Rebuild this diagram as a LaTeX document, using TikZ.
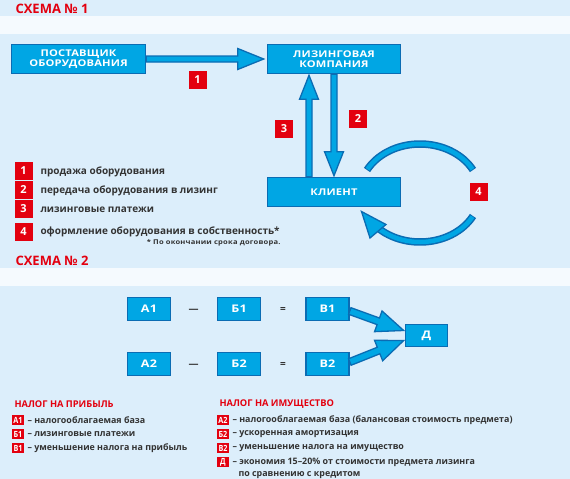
\documentclass[tikz,border=0pt]{standalone}
\usepackage{fontspec}
\setmainfont{Open Sans}
\usetikzlibrary{calc}
\definecolor{bg}{HTML}{DCEEFB}
\definecolor{band}{HTML}{F5FAFE}
\definecolor{boxfill}{HTML}{00A6E4}
\definecolor{boxline}{HTML}{0B6CB3}
\definecolor{redc}{HTML}{E3000F}
\definecolor{txt}{HTML}{333333}
\newfontfamily\wide[FakeStretch=1.2, LetterSpace=2]{Open Sans}
\newfontfamily\widesm[FakeStretch=1.15, LetterSpace=3]{Open Sans}
\newfontfamily\narrow[FakeStretch=0.85]{Open Sans}
\newcommand\barrow[5]{%
  \path let \p1=($(#2)-(#1)$), \n1={atan2(\y1,\x1)}, \n2={veclen(\x1,\y1)} in
  [draw=boxline, fill=boxfill, line width=1.3pt, line join=miter, shift={(#1)}, rotate=\n1]
  (0,-#3) -- ({\n2-#5},-#3) -- ({\n2-#5},-#4) -- (\n2,0) -- ({\n2-#5},#4) -- ({\n2-#5},#3) -- (0,#3) -- cycle;}
\begin{document}
\begin{tikzpicture}[x=1pt,y=-1pt,
  bluebox/.style={draw=boxline, line width=1.6pt, fill=boxfill, text=white,
    font=\wide\bfseries\fontsize{9.3}{10.3}\selectfont, align=center, inner sep=0pt},
  bigbox/.style={bluebox, font=\wide\bfseries\fontsize{10.5}{11}\selectfont},
  numbox/.style={fill=redc, text=white, font=\bfseries\fontsize{11}{11}\selectfont,
    minimum size=18pt, inner sep=0pt},
  smallbox/.style={fill=redc, text=white, font=\narrow\bfseries\fontsize{8.5}{8.5}\selectfont,
    minimum width=12pt, minimum height=10.5pt, inner sep=0pt},
  legtext/.style={anchor=west, text=txt, font=\bfseries\fontsize{10}{11}\selectfont},
  lowtext/.style={anchor=west, text=txt, font=\bfseries\fontsize{8.9}{10}\selectfont},
  heading/.style={anchor=base west, text=redc, font=\bfseries\fontsize{13}{13}\selectfont},
  subhead/.style={anchor=west, text=redc, font=\bfseries\fontsize{9.3}{10}\selectfont},
  opsign/.style={text=txt, font=\bfseries\fontsize{10}{10}\selectfont}]
\useasboundingbox (0,0) rectangle (570,479);
\fill[bg] (0,0) rectangle (570,479);
\fill[band] (0,16) rectangle (570,34);
\fill[band] (0,268) rectangle (570,286);

% ---------- Scheme 1
\node[heading] (h1) at (12,13) {СХЕМА № 1};
\node[bluebox, minimum width=134pt, minimum height=29pt] (sup) at (78.5,59) {ПОСТАВЩИК\\ОБОРУДОВАНИЯ};
\node[bluebox, minimum width=133pt, minimum height=29pt] (lk) at (334,59) {ЛИЗИНГОВАЯ\\КОМПАНИЯ};
\node[bluebox, minimum width=133pt, minimum height=29pt] (cl) at (334,192) {КЛИЕНТ};

\barrow{sup.east}{$(lk.west)+(-3,0)$}{3}{10.5}{26}
\barrow{$(cl.north)+(-25,0)$}{$(lk.south)+(-25,1)$}{3}{9.5}{24}
\barrow{$(lk.south)+(0,0)$}{$(cl.north)+(0,-1)$}{3}{9.5}{24}

\node[numbox] (n1) at (197.5,80) {1};
\node[numbox] (n2) at (358,119) {2};
\node[numbox] (n3) at (284,129) {3};
\node[numbox] (n4) at (478.5,191.5) {4};

% circular arrow
\draw[boxline, line width=7.5pt] plot[domain=152:28, samples=40] ({420+60*cos(\x)},{193-49*sin(\x)});
\draw[boxfill, line width=4.5pt] plot[domain=151:29, samples=40] ({420+60*cos(\x)},{193-49*sin(\x)});
\draw[boxline, line width=7.5pt] plot[domain=-28:-136, samples=40] ({420+60*cos(\x)},{193-49*sin(\x)});
\draw[boxfill, line width=4.5pt] plot[domain=-29:-137, samples=40] ({420+60*cos(\x)},{193-49*sin(\x)});
\draw[boxline, fill=boxfill, line width=1.3pt, line join=miter]
  (386,224.5) -- (361.5,211.5) -- (370,238) -- cycle;

% legend
\node[numbox] (l1) at (23.5,171) {1};
\node[numbox] (l2) at (23.5,190) {2};
\node[numbox] (l3) at (23.5,208.5) {3};
\node[numbox] (l4) at (23.5,232) {4};
\node[legtext] (t1) at (37,172) {продажа оборудования};
\node[legtext] (t2) at (37,191) {передача оборудования в лизинг};
\node[legtext] (t3) at (37,210) {лизинговые платежи};
\node[legtext] (t4) at (37,232) {оформление оборудования в собственность*};
\node[anchor=east, text=txt, font=\widesm\bfseries\fontsize{6.6}{7}\selectfont] (fn) at (284,243) {* По окончании срока договора.};

% ---------- Scheme 2
\node[heading] (h2) at (12,265) {СХЕМА № 2};
\node[bigbox, minimum width=43pt, minimum height=23pt] (a1) at (149,309) {А1};
\node[bigbox, minimum width=43pt, minimum height=23pt] (b1) at (239,309) {Б1};
\node[bigbox, minimum width=43pt, minimum height=23pt] (v1) at (327.5,309) {В1};
\node[bigbox, minimum width=43pt, minimum height=23pt] (a2) at (149,364) {А2};
\node[bigbox, minimum width=43pt, minimum height=23pt] (b2) at (239,364) {Б2};
\node[bigbox, minimum width=43pt, minimum height=23pt] (v2) at (327.5,364) {В2};
\node[bigbox, minimum width=42pt, minimum height=22pt] (d) at (426.5,335.5) {Д};
\node[opsign] (m1) at (193.5,310.5) {—};
\node[opsign] (m2) at (193.5,365.5) {—};
\node[opsign] (e1) at (283,310) {=};
\node[opsign] (e2) at (283,365) {=};
\barrow{$(v1.east)+(0,2)$}{$(d.west)+(-1,-5)$}{3.5}{11}{27}
\barrow{$(v2.east)+(0,-2)$}{$(d.west)+(-1,5)$}{3.5}{11}{27}

% lower legend
\node[subhead] (s1) at (11,404) {НАЛОГ НА ПРИБЫЛЬ};
\node[smallbox] (ka1) at (18,420) {А1};
\node[lowtext] at (24,420) {– налогооблагаемая база};
\node[smallbox] (kb1) at (18,434) {Б1};
\node[lowtext] at (24,434) {– лизинговые платежи};
\node[smallbox] (kv1) at (18,448) {В1};
\node[lowtext] at (24,448) {– уменьшение налога на прибыль};

\node[subhead] (s2) at (216,404) {НАЛОГ НА ИМУЩЕСТВО};
\node[smallbox] (ka2) at (223,420) {А2};
\node[lowtext] at (229,420) {– налогооблагаемая база (балансовая стоимость предмета)};
\node[smallbox] (kb2) at (223,434) {Б2};
\node[lowtext] at (229,434) {– ускоренная амортизация};
\node[smallbox] (kv2) at (223,448) {В2};
\node[lowtext] at (229,448) {– уменьшение налога на имущество};
\node[smallbox] (kd) at (223,462) {Д};
\node[lowtext] at (229,462) {– экономия 15–20\% от стоимости предмета лизинга};
\node[lowtext] at (235,475) {по сравнению с кредитом};
\end{tikzpicture}
\end{document}
